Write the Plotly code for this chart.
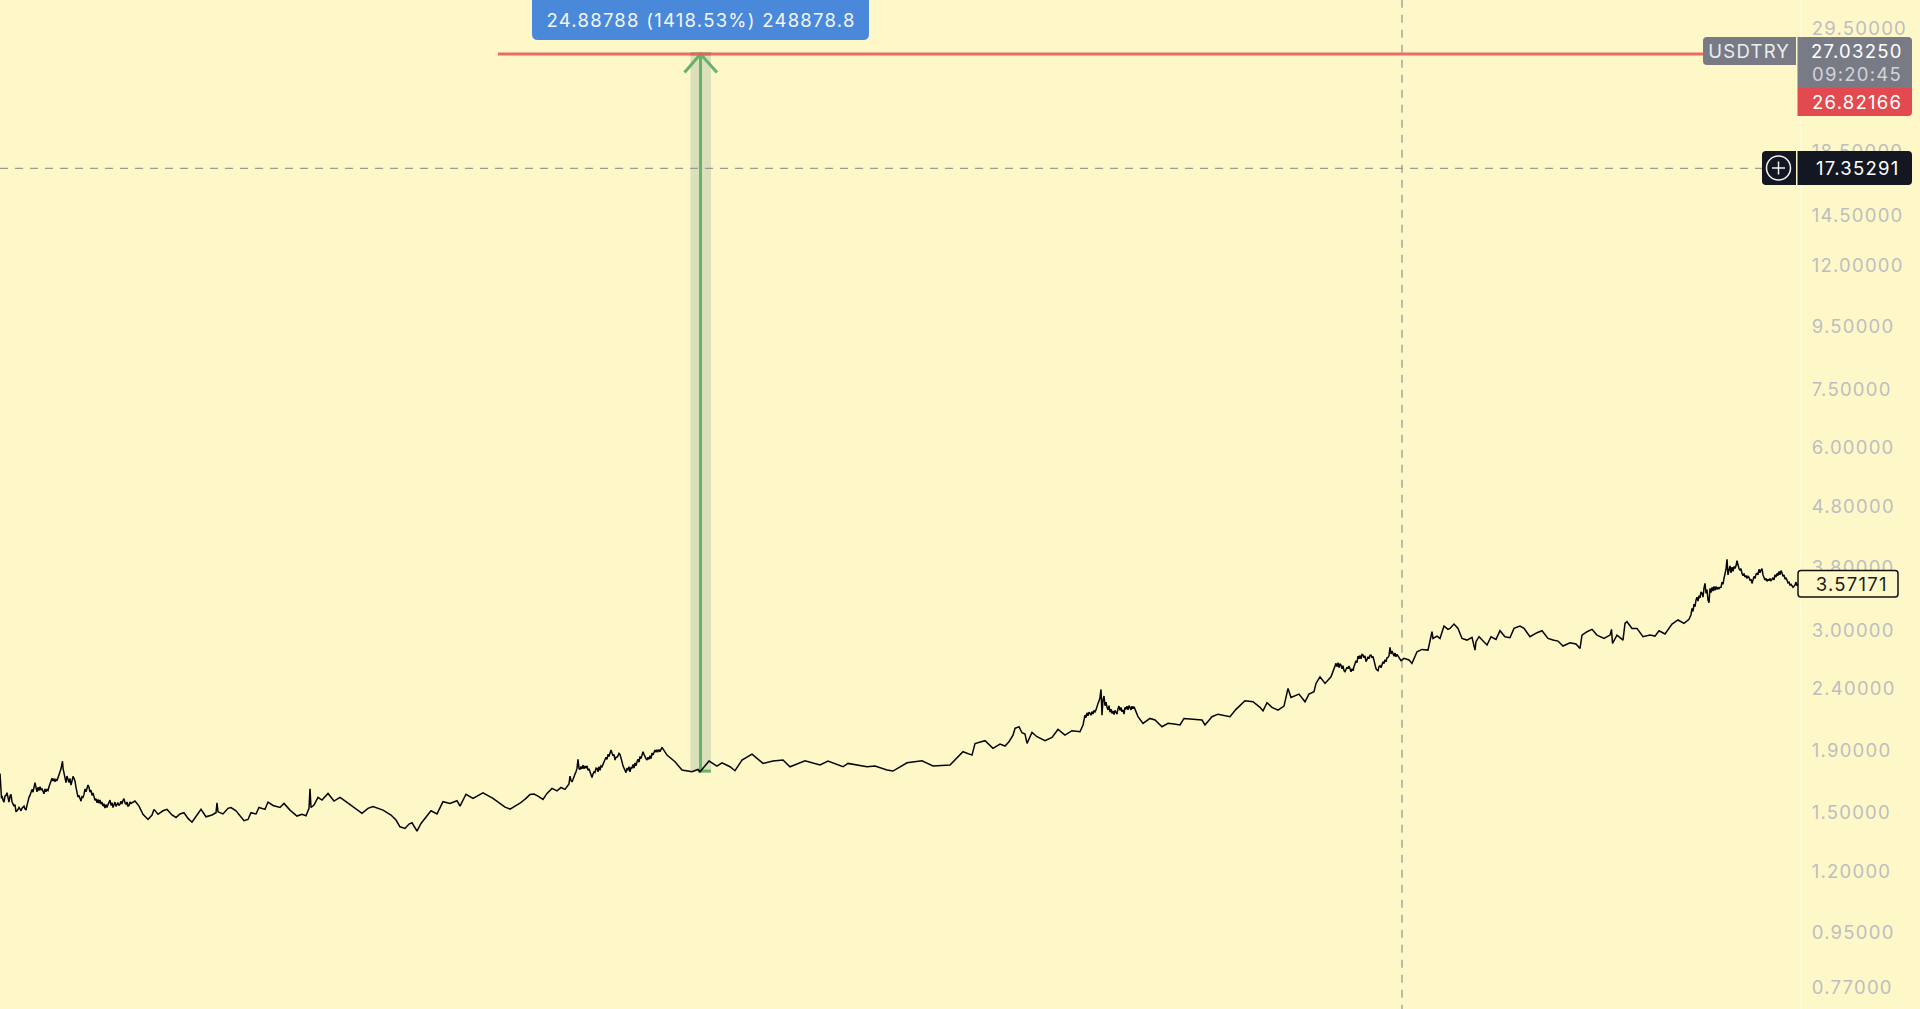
import plotly.graph_objects as go

bars = [
0,1.5,3,5,7,8,10,12,14,16,19,21,24,26,29,32,35,37,40,43,
46,49,52,55,58,60,62.5,65,68,71,74,77,80,83,86,88,91,94,97,100,
103,107,110,113,117,120,124,128,131,135,139,143,148,152,154,158,163,167,172,176,
180,184,188,192,197,201,206,212,216,217,218,223,228,231,236,240,244,248,251,256,
259,265,268,273,280,284,290,297,302,306,309,310,311,314,318,322,328,334,340,346,
353,362,368,373,383,391,396,400,405,409,412,417,421,425,431,437,443,450,457,460,
466,473,483,493,499,505,510,515,520,526,530,534,538,543,547,552,557,561,565,569,
570,572,575,577,578,579,585,590,592,597,602,605,611,615,619,622,625,632,637,643,
647,655,662,667,675,682,692,698,700,709,717,722,730,735,742,752,763,773,783,790,
805,820,828,843,848,867,875,887,893,907,922,933,950,963,972,975,985,993,1000,1005,
1009,1013,1015,1019,1022,1025,1027,1032,1037,1045,1052,1058,1065,1072,1080,1083,1085,1090,1095,1098,
1100,1101,1102,1103,1107,1112,1116,1119,1122,1125,1130,1134,1138,1143,1150,1155,1162,1168,1174,1180,
1184,1193,1202,1205,1212,1218,1223,1230,1236,1245,1253,1260,1263,1267,1272,1278,1284,1288,1291,1299,
1305,1309,1314,1316,1320,1325,1331,1336,1341,1345,1349,1353,1358,1363,1366,1371,1377,1382,1388,1390,
1393,1398,1401,1404,1409,1412,1417,1422,1428,1432,1433,1437,1440,1444,1448,1450,1454,1458,1462,1467,
1472,1475,1476,1479,1484,1487,1491,1496,1500,1505,1510,1514,1520,1524,1530,1537,1542,1548,1553,1558,
1563,1570,1576,1580,1582,1587,1592,1597,1604,1610,1611.5,1612.5,1617,1623,1625,1627,1632,1637,1643,1650,
1655,1659,1665,1672,1678,1684,1689,1692,1696,1702,1705,1708,1710,1720,1724,1727,1729,1735,1737,1742,
1749,1752,1757,1761,1765,1772,1777,1782,1787,1792,1795,1798,
]

prices = [
1.739,1.582,1.572,1.596,1.616,1.572,1.596,1.562,1.536,1.503,1.528,1.509,1.536,1.513,1.588,1.637,1.679,1.622,1.653,1.629,
1.622,1.653,1.707,1.685,1.718,1.751,1.822,1.707,1.696,1.664,1.707,1.622,1.572,1.588,1.622,1.664,1.633,1.592,1.556,1.572,
1.536,1.528,1.572,1.528,1.552,1.548,1.580,1.536,1.552,1.566,1.536,1.489,1.460,1.485,1.517,1.489,1.509,1.517,1.485,1.471,
1.491,1.498,1.466,1.445,1.485,1.517,1.475,1.485,1.498,1.556,1.503,1.491,1.523,1.528,1.509,1.479,1.453,1.460,1.498,1.491,
1.528,1.517,1.560,1.540,1.528,1.552,1.513,1.479,1.489,1.481,1.523,1.640,1.528,1.542,1.588,1.572,1.612,1.566,1.588,1.562,
1.533,1.494,1.523,1.533,1.513,1.485,1.457,1.420,1.411,1.435,1.442,1.397,1.438,1.466,1.509,1.491,1.562,1.552,1.568,1.536,
1.607,1.582,1.616,1.582,1.558,1.530,1.519,1.536,1.553,1.582,1.606,1.608,1.596,1.576,1.612,1.643,1.628,1.649,1.637,1.671,
1.721,1.684,1.735,1.773,1.835,1.773,1.789,1.750,1.713,1.773,1.784,1.842,1.901,1.830,1.877,1.818,1.750,1.773,1.818,1.889,
1.830,1.901,1.920,1.865,1.818,1.762,1.750,1.766,1.750,1.823,1.789,1.811,1.784,1.757,1.830,1.872,1.807,1.823,1.830,1.784,
1.825,1.796,1.823,1.784,1.807,1.784,1.789,1.762,1.755,1.811,1.825,1.789,1.796,1.889,1.865,1.949,1.970,1.913,1.944,1.930,
1.962,2.012,2.064,2.077,2.030,2.020,1.950,2.033,2.000,1.970,1.995,2.056,2.012,2.046,2.038,2.091,2.171,2.185,2.199,2.270,
2.322,2.394,2.171,2.299,2.236,2.185,2.199,2.247,2.199,2.236,2.236,2.242,2.158,2.104,2.144,2.131,2.077,2.104,2.099,2.091,
2.144,2.136,2.131,2.091,2.158,2.179,2.171,2.158,2.219,2.293,2.284,2.236,2.207,2.276,2.236,2.213,2.247,2.403,2.322,2.352,
2.284,2.352,2.373,2.449,2.512,2.449,2.512,2.643,2.627,2.560,2.617,2.570,2.718,2.728,2.660,2.728,2.577,2.643,2.704,2.809,
2.745,2.718,2.670,2.694,2.677,2.643,2.762,2.787,2.780,2.981,2.906,2.932,2.906,3.045,3.008,3.019,3.069,3.019,2.906,2.888,
2.918,2.780,2.870,2.925,2.870,2.834,2.925,2.895,2.992,2.925,2.914,3.019,3.046,3.019,2.925,2.970,2.992,2.906,2.888,2.877,
2.823,2.859,2.845,2.798,2.943,2.981,3.008,2.943,2.906,2.943,3.008,2.852,2.943,2.888,3.077,3.097,3.019,3.019,2.925,2.943,
2.932,2.992,2.955,3.069,3.117,3.077,3.125,3.257,3.362,3.449,3.582,3.362,3.515,3.528,3.651,3.926,3.768,3.792,3.905,3.721,
3.665,3.582,3.721,3.768,3.628,3.637,3.721,3.730,3.605,3.537,3.560,3.572,
]

# finer readings (bar, price) in the stretches where the line is most jagged
fine_readings = [
(2,1.596),(4,1.560),(6,1.600),(9,1.560),(11,1.606),(13,1.548),(15,1.545),(18,1.516),(20,1.520),(22,1.524),
(25,1.520),(27,1.540),(28,1.570),(30,1.600),(33,1.620),(34,1.665),(36,1.650),(38,1.650),(39,1.630),(41,1.636),
(42,1.640),(44,1.610),(45,1.640),(47,1.636),(48,1.630),(50,1.670),(51,1.700),(53,1.690),(54,1.705),(56,1.700),
(57,1.692),(59,1.735),(61,1.770),(63,1.775),(64,1.745),(66,1.680),(67,1.722),(69,1.680),(70,1.706),(72,1.690),
(73,1.720),(75,1.690),(76,1.650),(78,1.590),(79,1.600),(81,1.565),(82,1.592),(84,1.606),(85,1.640),(87,1.640),
(89,1.650),(90,1.620),(92,1.600),(93,1.615),(95,1.570),(96,1.580),(98,1.575),(99,1.552),(101,1.548),(102,1.560),
(104,1.550),(105,1.525),(106,1.545),(108,1.545),(109,1.560),(111,1.540),(112,1.556),(114,1.540),(115,1.560),(116,1.535),
(118,1.556),(119,1.540),(121,1.565),(122,1.548),(123,1.570),(125,1.555),(126,1.548),(127,1.560),(129,1.540),(130,1.560),
(571,1.695),(573,1.700),(574,1.725),(576,1.750),(580,1.765),(581,1.785),(582,1.770),(583,1.795),(584,1.770),(586,1.775),
(587,1.790),(588,1.760),(589,1.770),(591,1.735),(593,1.735),(594,1.750),(595,1.745),(596,1.775),(598,1.750),(599,1.785),
(600,1.760),(601,1.790),(603,1.800),(604,1.815),(606,1.850),(607,1.835),(608,1.870),(609,1.855),(610,1.885),(612,1.880),
(613,1.860),(614,1.870),(616,1.850),(617,1.850),(618,1.860),(620,1.870),(621,1.850),(623,1.790),(624,1.770),(626,1.745),
(627,1.775),(628,1.760),(629,1.785),(630,1.750),(631,1.780),(633,1.800),(634,1.775),(635,1.810),(636,1.790),(638,1.835),
(639,1.815),(640,1.855),(641,1.840),(642,1.870),(644,1.870),(645,1.850),(646,1.840),(648,1.850),(649,1.835),(650,1.860),
(651,1.840),(652,1.880),(653,1.865),(654,1.890),(656,1.885),(657,1.900),(658,1.890),(659,1.905),(660,1.890),
(1086,2.150),(1087,2.190),(1088,2.165),(1089,2.195),(1091,2.170),(1092,2.200),(1093,2.180),(1094,2.210),(1096,2.215),(1097,2.250),
(1099,2.290),(1104,2.335),(1105,2.250),(1106,2.280),(1108,2.215),(1109,2.250),(1110,2.195),(1111,2.220),(1113,2.205),(1114,2.175),
(1115,2.210),(1117,2.180),(1118,2.225),(1120,2.210),(1121,2.235),(1123,2.215),(1124,2.180),(1126,2.220),(1127,2.245),(1128,2.215),
(1129,2.250),(1131,2.215),(1132,2.245),(1133,2.225),(1135,2.225),(1136,2.200),
(1337,2.610),(1338,2.650),(1339,2.600),(1340,2.640),(1342,2.590),(1343,2.620),(1344,2.570),(1346,2.590),(1347,2.605),(1348,2.590),
(1350,2.590),(1351,2.560),(1352,2.590),(1354,2.610),(1355,2.640),(1356,2.670),(1357,2.650),(1359,2.690),(1360,2.725),(1361,2.690),
(1362,2.735),(1364,2.700),(1365,2.720),(1367,2.680),(1368,2.710),(1369,2.690),(1370,2.725),(1372,2.700),(1373,2.715),(1374,2.660),
(1375,2.630),(1376,2.590),(1378,2.570),(1379,2.610),(1380,2.620),(1381,2.600),(1383,2.660),(1384,2.640),(1385,2.680),(1386,2.660),
(1387,2.700),(1389,2.720),(1391,2.740),(1392,2.770),(1394,2.715),(1395,2.750),(1396,2.710),(1397,2.735),
(1691,3.180),(1693,3.220),(1694,3.310),(1695,3.280),(1697,3.400),(1698,3.350),(1699,3.420),(1700,3.390),(1701,3.470),(1703,3.400),
(1704,3.520),(1706,3.450),(1707,3.500),(1709,3.330),(1711,3.460),(1712,3.530),(1713,3.480),(1714,3.540),(1715,3.490),(1716,3.540),
(1717,3.500),(1718,3.530),(1719,3.510),(1721,3.530),(1722,3.600),(1723,3.570),(1725,3.700),(1726,3.780),(1728,3.700),(1730,3.830),
(1731,3.730),(1732,3.810),(1733,3.750),(1734,3.820),(1736,3.830),(1738,3.840),(1739,3.790),(1740,3.770),(1741,3.790),(1743,3.690),
(1744,3.720),(1745,3.670),(1746,3.690),(1747,3.650),(1748,3.680),(1750,3.620),(1751,3.640),(1753,3.620),(1754,3.680),(1755,3.650),
(1756,3.710),(1758,3.700),(1759,3.780),(1760,3.730),(1762,3.790),(1763,3.700),(1764,3.660),(1766,3.650),(1767,3.610),(1768,3.640),
(1769,3.620),(1770,3.650),(1771,3.620),(1773,3.660),(1774,3.630),(1775,3.700),(1776,3.670),(1778,3.690),(1779,3.750),(1780,3.700),
(1781,3.760),(1783,3.680),(1784,3.700),(1785,3.640),(1786,3.660),(1788,3.590),(1789,3.600),(1790,3.560),(1791,3.570),(1793,3.530),
(1794,3.545),(1796,3.600),(1797,3.550),
]

tick_vals = [29.5, 18.5, 14.5, 12, 9.5, 7.5, 6, 4.8, 3.8, 3, 2.4, 1.9, 1.5, 1.2, 0.95, 0.77]
tick_text = ["29.50000", "18.50000", "14.50000", "12.00000", "9.50000", "7.50000", "6.00000",
             "4.80000", "3.80000", "3.00000", "2.40000", "1.90000", "1.50000", "1.20000",
             "0.95000", "0.77000"]

target_price = 26.82166
symbol_price = 27.03250
cross_price = 17.35291
last_price = 3.57171
base_price = 1.7546
arrow_wing_price = 25.0
measure_text = "24.88788 (1418.53%) 248878.8"

BG = "#FEF8C9"
GREY = "#787B86"
FONT = "Inter"
FS = 18.5
W, H, PLOT_W = 1920, 1009, 1800

series = sorted(list(zip(bars, prices, strict=True)) + fine_readings)
line_x = [s[0] for s in series]
line_y = [s[1] for s in series]


def X(p):
    return p / PLOT_W


def Y(p):
    return 1 - p / H


def tag(x0, x1, y0, y1, fill, r=4, corners="lrLR", line=None):
    """Rounded box placed in page pixels."""
    xa, xb, ya, yb = X(x0), X(x1), Y(y0), Y(y1)
    rx, ry = r / PLOT_W, r / H
    tl = "l" in corners
    tr = "r" in corners
    br = "R" in corners
    bl = "L" in corners
    d = f"M {xa + (rx if tl else 0)} {ya} L {xb - (rx if tr else 0)} {ya} "
    if tr:
        d += f"Q {xb} {ya} {xb} {ya - ry} "
    d += f"L {xb} {yb + (ry if br else 0)} "
    if br:
        d += f"Q {xb} {yb} {xb - rx} {yb} "
    d += f"L {xa + (rx if bl else 0)} {yb} "
    if bl:
        d += f"Q {xa} {yb} {xa} {yb + ry} "
    d += f"L {xa} {ya - (ry if tl else 0)} "
    if tl:
        d += f"Q {xa} {ya} {xa + rx} {ya} "
    d += "Z"
    return dict(type="path", xref="paper", yref="paper", path=d, fillcolor=fill,
                line=dict(color=line or fill, width=1.5 if line else 0), layer="above")


def label(x, y, text, color="#FFFFFF", size=FS, anchor="center"):
    return dict(xref="paper", yref="paper", x=X(x), y=Y(y), text=text, showarrow=False,
                xanchor=anchor, yanchor="middle", font=dict(family=FONT, size=size, color=color))


fig = go.Figure()

# measuring tool
m0, m1 = 690.5, 711
fig.add_trace(go.Scatter(x=[m0, m1, m1, m0, m0],
                         y=[base_price, base_price, target_price, target_price, base_price],
                         mode="lines", fill="toself", fillcolor="rgba(70,130,130,0.2)",
                         line=dict(width=0), hoverinfo="skip"))
fig.add_trace(go.Scatter(x=[700.5, 700.5], y=[base_price, target_price], mode="lines",
                         line=dict(color="#68B168", width=3), hoverinfo="skip"))
fig.add_trace(go.Scatter(x=[698, 711], y=[base_price, base_price], mode="lines",
                         line=dict(color="#68B168", width=3), hoverinfo="skip"))
fig.add_trace(go.Scatter(x=[684.5, 700.5, 717], y=[arrow_wing_price, target_price, arrow_wing_price],
                         mode="lines", line=dict(color="#68B168", width=3), hoverinfo="skip"))
fig.add_trace(go.Scatter(x=[m0, m1], y=[target_price, target_price], mode="lines",
                         line=dict(color="#68B168", width=3), hoverinfo="skip"))
# target line
fig.add_trace(go.Scatter(x=[498, 1703], y=[target_price, target_price], mode="lines",
                         line=dict(color="rgba(233,96,92,0.92)", width=3), hoverinfo="skip"))
# crosshair
fig.add_trace(go.Scatter(x=[0, 1762], y=[cross_price, cross_price], mode="lines",
                         line=dict(color="#9A9A96", width=1.3, dash="8px,7px"), hoverinfo="skip"))
fig.add_trace(go.Scatter(x=[1402, 1402], y=[0.7, 33], mode="lines",
                         line=dict(color="#9A9A96", width=1.3, dash="8px,7px"), hoverinfo="skip"))
# price
fig.add_trace(go.Scatter(x=line_x, y=line_y, mode="lines",
                         line=dict(color="#050505", width=1.5), hoverinfo="skip"))

shapes = [
    tag(532, 869, -6, 40, "#4A88D9", r=6),
    tag(1703, 1796, 37, 65, GREY, corners="lL"),
    tag(1797.5, 1912, 37, 88, GREY, corners="r"),
    tag(1797.5, 1912, 88, 116, "#E24A50", corners="R"),
    tag(1762, 1796, 151, 185, "#131722", corners="lL"),
    tag(1797.5, 1912, 151, 185, "#131722", corners="rR"),
    tag(1798, 1898, 570.5, 597, BG, r=3, line="#111111"),
    dict(type="circle", xref="paper", yref="paper", x0=X(1766.5), x1=X(1790.5), y0=Y(156), y1=Y(180),
         line=dict(color="#F2F2F2", width=1.5), layer="above"),
    dict(type="line", xref="paper", yref="paper", x0=X(1772), x1=X(1785), y0=Y(168), y1=Y(168),
         line=dict(color="#F2F2F2", width=1.5), layer="above"),
    dict(type="line", xref="paper", yref="paper", x0=X(1778.5), x1=X(1778.5), y0=Y(161.5), y1=Y(174.5),
         line=dict(color="#F2F2F2", width=1.5), layer="above"),
]

annotations = [
    label(700.5, 20, measure_text, "#F2F6FC"),
    label(1749.5, 51, "USDTRY", "#EDEDED"),
    label(1857, 51, f"{symbol_price:.5f}", "#FFFFFF"),
    label(1857, 74, "09:20:45", "#D2D3D6"),
    label(1857, 102, f"{target_price:.5f}", "#FFFFFF"),
    label(1857, 168, f"{cross_price:.5f}", "#FFFFFF"),
    label(1851, 584, f"{last_price:.5f}", "#1A1A1A"),
]

fig.update_layout(
    width=W, height=H, autosize=False, showlegend=False,
    paper_bgcolor=BG, plot_bgcolor=BG,
    margin=dict(l=0, r=W - PLOT_W, t=0, b=0),
    shapes=shapes, annotations=annotations,
    xaxis=dict(range=[0, PLOT_W], visible=False, fixedrange=True),
    yaxis=dict(type="log", range=[-0.1486, 1.5175], side="right", showgrid=False, zeroline=False,
               tickmode="array", tickvals=tick_vals, ticktext=tick_text,
               ticks="outside", ticklen=7, tickwidth=1, tickcolor="rgba(0,0,0,0)",
               tickfont=dict(family=FONT, size=FS, color="#BDBEC0"),
               showline=True, linecolor="rgba(255,255,255,0.35)", linewidth=1, fixedrange=True),
)

fig.write_html("out.html", config=dict(displayModeBar=False),
               post_script=("document.body.style.margin='0';document.body.style.overflow='hidden';"
                            "var s=document.createElement('style');"
                            "s.textContent='svg text{letter-spacing:1.25px}';"
                            "document.head.appendChild(s);"))
